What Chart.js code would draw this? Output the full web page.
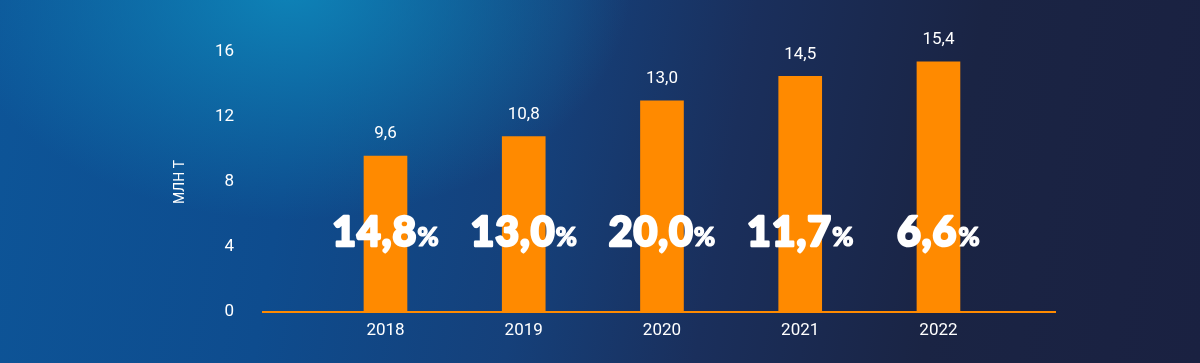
<!DOCTYPE html>
<html>
<head>
<meta charset="utf-8">
<script src="https://cdn.jsdelivr.net/npm/chart.js@4"></script>
<style>
  html, body { margin: 0; padding: 0; }
  body {
    width: 1200px; height: 363px; overflow: hidden;
    background:
      radial-gradient(ellipse 340px 230px at 290px -10px, rgba(14,140,190,0.85), rgba(14,140,190,0) 100%),
      linear-gradient(100deg, #0d5598 0%, #0e4c8e 25%, #15407a 45%, #1a2f5c 60%, #1a2444 78%, #1a2141 100%);
  }
  #wrap { position: relative; width: 1200px; height: 363px; }
</style>
</head>
<body>
<div id="wrap"><canvas id="myChart"></canvas></div>
<script>
const YEARS = [2018, 2019, 2020, 2021, 2022];
const VOLUMES = [9.6, 10.8, 13.0, 14.5, 15.4];
const GROWTH = [14.8, 13.0, 20.0, 11.7, 6.6];
const Y_TICKS = [0, 4, 8, 12, 16];
const Y_TITLE = "МЛН Т";

const ORANGE = '#ff8a00';
const fmt = (v) => v.toFixed(1).replace('.', ',');

// подписи над столбцами и крупные проценты
const labelsPlugin = {
  id: 'barLabels',
  afterDatasetsDraw(chart) {
    const ctx = chart.ctx;
    const meta = chart.getDatasetMeta(0);
    ctx.save();
    ctx.fillStyle = '#ffffff';
    ctx.strokeStyle = '#ffffff';
    ctx.lineJoin = 'round';
    meta.data.forEach((bar, i) => {
      ctx.font = '17px Roboto';
      ctx.textAlign = 'center';
      ctx.textBaseline = 'middle';
      ctx.fillText(fmt(VOLUMES[i]), bar.x, bar.y - 22);

      const num = fmt(GROWTH[i]);
      ctx.font = '900 41px Lato';
      const w1 = ctx.measureText(num).width + 4;
      ctx.font = '900 26px Lato';
      const w2 = ctx.measureText('%').width;
      const start = bar.x - (w1 + w2) / 2;
      const base = chart.scales.y.getPixelForValue(4) - 1;
      ctx.textAlign = 'left';
      ctx.textBaseline = 'alphabetic';
      ctx.font = '900 41px Lato';
      ctx.letterSpacing = '1px';
      ctx.lineWidth = 2.5;
      ctx.strokeText(num, start, base);
      ctx.fillText(num, start, base);
      ctx.letterSpacing = '0px';
      ctx.font = '900 26px Lato';
      ctx.lineWidth = 1.2;
      ctx.strokeText('%', start + w1, base);
      ctx.fillText('%', start + w1, base);
    });
    ctx.restore();
  }
};

const data = {
  datasets: [{
    data: YEARS.map((y, i) => ({x: y, y: VOLUMES[i]})),
    backgroundColor: ORANGE,
    borderWidth: 0,
    barThickness: 43,
  }]
};

const config = {
  type: 'bar',
  data: data,
  options: {
    responsive: true,
    maintainAspectRatio: false,
    animation: false,
    layout: {
      padding: {left: 173, right: 145, top: 52, bottom: 0}
    },
    plugins: {
      legend: {display: false},
      tooltip: {enabled: false}
    },
    scales: {
      x: {
        type: 'linear',
        offset: false,
        min: 2017.114,
        max: 2022.843,
        afterBuildTicks: (scale) => { scale.ticks = YEARS.map(v => ({value: v})); },
        afterFit: (scale) => { scale.height = 51; },
        grid: {display: false, drawTicks: false},
        border: {display: true, color: ORANGE, width: 2},
        ticks: {
          color: '#ffffff',
          font: {family: 'Roboto', size: 17},
          padding: 9,
          callback: (value) => String(value)
        }
      },
      y: {
        min: 0,
        max: 16,
        afterBuildTicks: (scale) => { scale.ticks = Y_TICKS.map(v => ({value: v})); },
        afterFit: (scale) => { scale.width = 90; },
        grid: {display: false, drawTicks: false},
        border: {display: false},
        ticks: {
          color: '#ffffff',
          font: {family: 'Roboto', size: 17},
          padding: 29
        },
        title: {
          display: true,
          text: Y_TITLE,
          color: '#ffffff',
          font: {family: 'Roboto', size: 14, lineHeight: 1},
          padding: 0
        }
      }
    }
  },
  plugins: [labelsPlugin]
};

new Chart(document.getElementById('myChart'), config);
</script>
</body>
</html>
